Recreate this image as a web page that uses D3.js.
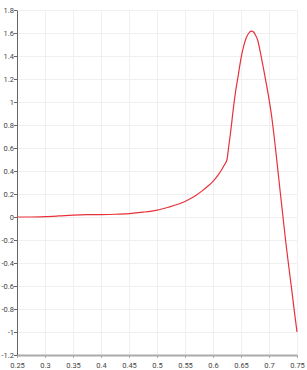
<!DOCTYPE html>
<html>
<head>
<meta charset="utf-8">
<script src="https://cdn.jsdelivr.net/npm/d3@7"></script>
<style>
html,body{margin:0;padding:0;background:#fff;}
svg{display:block;}
</style>
</head>
<body>
<svg id="chart" width="307" height="370"></svg>
<script>
const xValues = [0.25,0.275,0.30,0.325,0.35,0.375,0.40,0.425,0.45,0.475,0.50,0.52,0.54,0.55,0.56,0.57,0.58,0.59,0.60,0.61,0.62,0.625,0.628,0.632,0.636,0.640,0.645,0.650,0.655,0.660,0.664,0.668,0.672,0.675,0.680,0.685,0.690,0.695,0.700,0.705,0.710,0.715,0.720,0.725,0.730,0.735,0.740,0.745,0.750];
const yValues = [0.0,0.0,0.003,0.009,0.016,0.02,0.021,0.024,0.03,0.042,0.06,0.085,0.115,0.135,0.16,0.19,0.225,0.265,0.31,0.37,0.45,0.50,0.61,0.76,0.93,1.08,1.23,1.38,1.49,1.565,1.60,1.617,1.61,1.59,1.535,1.42,1.295,1.165,1.025,0.865,0.665,0.445,0.22,0.0,-0.22,-0.42,-0.61,-0.81,-1.0];
const xTicks = [0.25,0.3,0.35,0.4,0.45,0.5,0.55,0.6,0.65,0.7,0.75];
const xTickLabels = ["0.25","0.3","0.35","0.4","0.45","0.5","0.55","0.6","0.65","0.7","0.75"];
const yTicks = [-1.2,-1,-0.8,-0.6,-0.4,-0.2,0,0.2,0.4,0.6,0.8,1,1.2,1.4,1.6,1.8];
const yTickLabels = ["-1.2","-1","-0.8","-0.6","-0.4","-0.2","0","0.2","0.4","0.6","0.8","1","1.2","1.4","1.6","1.8"];

(function(){
const svg = d3.select("#chart");
const mLeft = 17, mRight = 297, mTop = 10, mBottom = 355;
const x = d3.scaleLinear().domain([0.25,0.75]).range([mLeft,mRight]);
const y = d3.scaleLinear().domain([-1.2,1.8]).range([mBottom,mTop]);

// grid
const grid = svg.append("g");
grid.selectAll("line.gx").data(xTicks).join("line").attr("class","gx")
  .attr("x1",d=>x(d)).attr("x2",d=>x(d)).attr("y1",mTop).attr("y2",mBottom)
  .attr("stroke","#f0f0f0").attr("stroke-width",1).attr("shape-rendering","crispEdges");
grid.selectAll("line.gy").data(yTicks).join("line").attr("class","gy")
  .attr("x1",mLeft).attr("x2",mRight).attr("y1",d=>y(d)).attr("y2",d=>y(d))
  .attr("stroke","#f0f0f0").attr("stroke-width",1).attr("shape-rendering","crispEdges");

// x axis
const xAxis = d3.axisBottom(x).tickValues(xTicks)
  .tickFormat((d,i)=>xTickLabels[i]).tickSize(3).tickSizeOuter(0);
const gx = svg.append("g").attr("transform",`translate(0,${mBottom})`).call(xAxis);
gx.select(".domain").attr("stroke","#aaa").attr("stroke-width",2);
gx.selectAll(".tick line").attr("stroke","#aaa");
gx.selectAll(".tick text").attr("fill","#444").attr("font-size","7.5px")
  .attr("font-family","Roboto, 'DejaVu Sans', sans-serif").attr("dy","0.9em");

// y axis
const yAxis = d3.axisLeft(y).tickValues(yTicks)
  .tickFormat((d,i)=>yTickLabels[i]).tickSize(3).tickSizeOuter(0);
const gy = svg.append("g").attr("transform",`translate(${mLeft},0)`).call(yAxis);
gy.select(".domain").attr("stroke","#666").attr("stroke-width",1);
gy.selectAll(".tick line").attr("stroke","#666");
gy.selectAll(".tick text").attr("fill","#444").attr("font-size","7.5px")
  .attr("font-family","Roboto, 'DejaVu Sans', sans-serif").attr("x",-3);

// line
const data = xValues.map((v,i)=>({x:v,y:yValues[i]}));
const line = d3.line().x(d=>x(d.x)).y(d=>y(d.y)).curve(d3.curveMonotoneX);
svg.append("path").datum(data).attr("d",line)
  .attr("fill","none").attr("stroke","#e8323a").attr("stroke-width",1.2)
  .attr("stroke-linejoin","round");
})();
</script>
</body>
</html>
